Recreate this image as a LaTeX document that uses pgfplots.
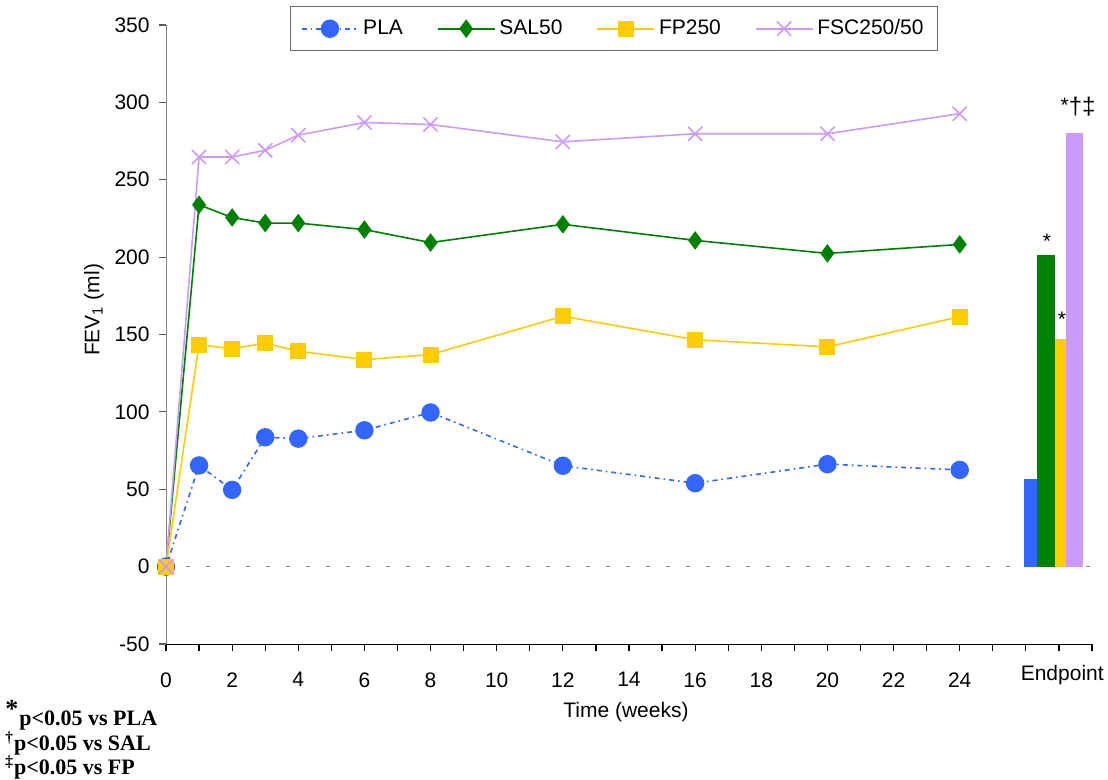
\documentclass[border=0pt]{standalone}
\usepackage{fontspec}
\setmainfont{Liberation Sans}
\newfontfamily\timesfont{Liberation Serif}
\usepackage{pgfplots}
\pgfplotsset{compat=1.18}
\definecolor{plablue}{HTML}{3366FF}
\definecolor{salgreen}{HTML}{008000}
\definecolor{fpyellow}{HTML}{FFCC00}
\definecolor{fscpurple}{HTML}{CC99FF}

\pgfplotstableread{
x y
0 0
1 65.4
2 49.6
3 83.6
4 82.7
6 88.1
8 99.6
12 65.2
16 53.9
20 66.2
24 62.5
}\pla
\pgfplotstableread{
x y
0 0
1 233.8
2 225.6
3 222.0
4 222.0
6 217.8
8 209.4
12 221.2
16 210.8
20 202.4
24 208.2
}\sal
\pgfplotstableread{
x y
0 0
1 143.5
2 140.7
3 144.4
4 139.2
6 133.8
8 137.0
12 161.8
16 146.6
20 142.0
24 161.5
}\fp
\pgfplotstableread{
x y
0 0
1 264.7
2 264.7
3 269.0
4 278.8
6 287.0
8 285.7
12 274.5
16 279.7
20 279.7
24 292.7
}\fsc

\begin{document}
\fontsize{10.5}{12.5}\selectfont
\begin{tikzpicture}
\useasboundingbox (-83pt,-68pt) rectangle (471pt,322pt);
\begin{axis}[
  scale only axis, width=463pt, height=309.5pt,
  xmin=0, xmax=28, ymin=-50, ymax=350,
  axis x line=bottom, axis y line=left,
  axis line style={-},
  y axis line style={gray},
  tick align=outside, major tick length=3.5pt,
  xtick={0,1,...,28},
  xticklabels={0,,2,,4,,6,,8,,10,,12,,14,,16,,18,,20,,22,,24,,,,},
  extra x ticks={27.1},
  extra x tick labels={Endpoint},
  extra x tick style={major tick length=0pt},
  ytick={-50,0,...,350},
  tick style={black, line width=0.6pt},
  ytick style={gray!70!black},
  yticklabel style={/pgf/number format/assume math mode=true, xshift=-1pt},
  xticklabel style={/pgf/number format/assume math mode=true, yshift=-7pt},
  tick label style={font=\fontsize{10.5}{12}\selectfont},
  legend columns=4,
  legend style={at={(0.484,0.994)}, anchor=center, draw=gray!80!black,
    font=\fontsize{10.5}{12}\selectfont, inner xsep=5pt, inner ysep=4.5pt,
    /tikz/every even column/.append style={column sep=15pt}},
  legend image code/.code={\draw[mark repeat=2,mark phase=2] plot coordinates {(0cm,0cm)(0.5cm,0cm)(1.0cm,0cm)};},
  clip=false,
]
\addplot[gray, dash pattern=on 2pt off 8pt, line width=0.6pt, forget plot] coordinates {(0,0) (28,0)};
\addplot[plablue, line width=0.8pt, dash pattern=on 2.5pt off 2pt on 0.8pt off 2pt, mark=*, mark size=4.2pt, mark options={solid, fill=plablue, draw=plablue}] table {\pla};
\addlegendentry{PLA}
\addplot[salgreen, line width=0.8pt, mark=diamond*, mark size=4pt, mark options={solid, fill=salgreen}] table {\sal};
\addlegendentry{SAL50}
\addplot[fpyellow, line width=0.8pt, mark=square*, mark size=3.6pt, mark options={solid, fill=fpyellow}] table {\fp};
\addlegendentry{FP250}
\addplot[fscpurple, line width=0.8pt, mark=x, mark size=5pt, mark options={solid}] table {\fsc};
\addlegendentry{FSC250/50}
% Endpoint bars
\addplot[ybar, bar width=0.38, bar shift=0pt, fill=plablue, draw=none, forget plot] coordinates {(26.14,56.5)};
\addplot[ybar, bar width=0.54, bar shift=0pt, fill=salgreen, draw=none, forget plot] coordinates {(26.60,201.5)};
\addplot[ybar, bar width=0.34, bar shift=0pt, fill=fpyellow, draw=none, forget plot] coordinates {(27.05,147.2)};
\addplot[ybar, bar width=0.49, bar shift=0pt, fill=fscpurple, draw=none, forget plot] coordinates {(27.47,280.0)};
\node[font=\fontsize{10.5}{12}\selectfont] at (axis cs:26.64,210.5) {*};
\node[font=\fontsize{10.5}{12}\selectfont] at (axis cs:27.09,160) {*};
\node[font=\fontsize{12}{14}\selectfont] at (axis cs:27.58,297) {\raisebox{1pt}{\fontsize{10.5}{12}\selectfont*}†‡};
\end{axis}
\node[rotate=90] at (-36pt,167pt) {FEV\textsubscript{1} (ml)};
\node at (230pt,-34pt) {Time (weeks)};
\node[anchor=north west, align=left, inner sep=0pt, font=\timesfont\bfseries\fontsize{11}{12.3}\selectfont] at (-80.5pt,-28pt)
  {\textsuperscript{\fontsize{13}{13}\selectfont *}p<0.05 vs PLA\\\textsuperscript{†}p<0.05 vs SAL\\\textsuperscript{‡}p<0.05 vs FP};
\end{tikzpicture}
\end{document}
